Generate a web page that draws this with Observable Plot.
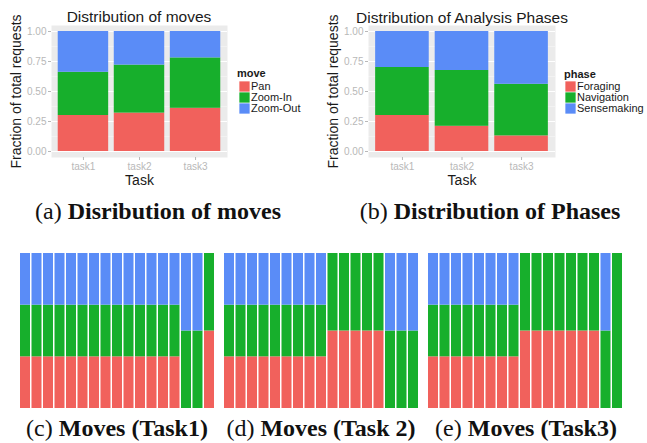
<!DOCTYPE html>
<html><head><meta charset="utf-8">
<script src="https://cdn.jsdelivr.net/npm/d3@7"></script>
<script src="https://cdn.jsdelivr.net/npm/@observablehq/plot@0.6"></script>
<style>
body{margin:0;background:#fff;}
#root{position:relative;width:647px;height:443px;overflow:hidden;font-family:"Liberation Sans",Arial,sans-serif;}
.abs{position:absolute;}
.ttl{position:absolute;font-size:15.5px;color:#1a1a1a;white-space:nowrap;transform:translate(-50%,-50%);}
.cap{position:absolute;font-family:"Liberation Serif","Times New Roman",serif;font-size:24px;white-space:nowrap;transform:translate(-50%,-50%);color:#111;}
.lgt{position:absolute;font-size:11px;font-weight:bold;color:#1a1a1a;transform:translateY(-50%);}
g[aria-label="y-axis label"] text, g[aria-label="x-axis label"] text{font-size:14px;fill:#1a1a1a;}
</style></head>
<body><div id="root"></div>
<script>
// ---- data ----
const tasks = ["task1", "task2", "task3"];
const moveNames = ["Pan", "Zoom-In", "Zoom-Out"];
const phaseNames = ["Foraging", "Navigation", "Sensemaking"];
const palette = ["#F1615C", "#17AF2C", "#5A8CF7"];
const yTicks = [0, 0.25, 0.5, 0.75, 1];
const yMinorTicks = [0.125, 0.375, 0.625, 0.875];

// (a) fraction of moves per task
const panShare = [0.30, 0.32, 0.36];
const zoomInShare = [0.36, 0.40, 0.42];
const zoomOutShare = [0.34, 0.28, 0.22];
// (b) fraction of phases per task
const foragingShare = [0.30, 0.21, 0.13];
const navigationShare = [0.40, 0.465, 0.43];
const sensemakingShare = [0.30, 0.325, 0.44];

// (c)-(e) move mix per column: P = Pan, I = Zoom-In, O = Zoom-Out
const task1Columns = ["PIO","PIO","PIO","PIO","PIO","PIO","PIO","PIO","PIO","PIO","PIO","PIO","PIO","PIO","IO","IO","PI"];
const task2Columns = ["PIO","PIO","PIO","PIO","PIO","PIO","PIO","PIO","PIO","PI","PI","PI","PI","PI","IO","IO","IO"];
const task3Columns = ["PIO","PIO","PIO","PIO","PIO","PIO","PIO","PIO","PI","PI","PI","PI","PI","PI","PI","IO","I"];
const moveCode = {P: "Pan", I: "Zoom-In", O: "Zoom-Out"};

const captions = [
  {label: "(a) ", bold: "Disribution of moves", x: 158, y: 211},
  {label: "(b) ", bold: "Distribution of Phases", x: 490, y: 211},
  {label: "(c) ", bold: "Moves (Task1)", x: 117, y: 428},
  {label: "(d) ", bold: "Moves (Task 2)", x: 321, y: 428},
  {label: "(e) ", bold: "Moves (Task3)", x: 526, y: 428}
];

// ---- helpers ----
const root = document.getElementById("root");
function place(node, left, top) {
  node.classList.add("abs");
  node.style.left = left + "px";
  node.style.top = top + "px";
  root.appendChild(node);
  return node;
}
function textDiv(cls, html, left, top) {
  const d = document.createElement("div");
  d.className = cls;
  d.innerHTML = html;
  d.style.left = left + "px";
  d.style.top = top + "px";
  root.appendChild(d);
  return d;
}
function longRows(names, series) {
  return names.flatMap((name, k) => tasks.map((task, i) => ({task, name, value: series[k][i]})));
}

function topChart(rows, names, width) {
  return Plot.plot({
    width, height: 192,
    marginLeft: 51, marginRight: 8, marginTop: 25, marginBottom: 35,
    style: {fontFamily: '"Liberation Sans", Arial, sans-serif', fontSize: "10px", background: "transparent"},
    x: {domain: tasks, paddingInner: 0.1, paddingOuter: 0.12, round: false},
    y: {domain: [-0.05, 1.05]},
    color: {domain: names, range: palette},
    marks: [
      Plot.frame({fill: "#EBEBEB", stroke: "none"}),
      Plot.gridY(yMinorTicks, {stroke: "white", strokeOpacity: 0.7, strokeWidth: 0.5}),
      Plot.gridY(yTicks, {stroke: "white", strokeOpacity: 1, strokeWidth: 1}),
      Plot.barY(rows, {x: "task", y: "value", z: "name", fill: "name", order: names}),
      Plot.axisY(yTicks, {tickFormat: d3.format(".2f"), tickSize: 3, tickPadding: 2, color: "#b8b8b8",
        label: "Fraction of total requests", labelAnchor: "center", labelOffset: 40, labelArrow: false}),
      Plot.axisX({tickSize: 3, tickPadding: 2, color: "#b8b8b8",
        label: "Task", labelAnchor: "center", labelOffset: 27, labelArrow: false})
    ]
  });
}

function legendChart(names) {
  return Plot.plot({
    width: 84, height: 34, margin: 0,
    style: {fontFamily: '"Liberation Sans", Arial, sans-serif', fontSize: "11px", background: "transparent"},
    y: {type: "point", domain: names, range: [0, 34], padding: 0.5, axis: null},
    color: {domain: names, range: palette},
    marks: [
      Plot.dot(names, {y: d => d, fill: d => d, symbol: "square", r: 5.8, frameAnchor: "left", dx: 5}),
      Plot.text(names, {y: d => d, text: d => d, frameAnchor: "left", textAnchor: "start", dx: 11.5, fill: "#1a1a1a"})
    ]
  });
}

function seqChart(cols) {
  const rows = cols.flatMap((pat, i) => pat.split("").map(c => ({col: i, name: moveCode[c], value: 1 / pat.length})));
  return Plot.plot({
    width: 194, height: 155, margin: 0,
    style: {background: "transparent"},
    x: {domain: d3.range(cols.length), paddingInner: 0.13, paddingOuter: 0, round: false, axis: null},
    y: {domain: [0, 1], axis: null},
    color: {domain: moveNames, range: palette},
    marks: [Plot.barY(rows, {x: "col", y: "value", z: "name", fill: "name", order: moveNames})]
  });
}

// ---- (a) ----
place(topChart(longRows(moveNames, [panShare, zoomInShare, zoomOutShare]), moveNames, 235), 0, 0);
textDiv("ttl", "Distribution of moves", 139, 17);
textDiv("lgt", "move", 237, 73);
place(legendChart(moveNames), 239, 80);

// ---- (b) ----
place(topChart(longRows(phaseNames, [foragingShare, navigationShare, sensemakingShare]), phaseNames, 246), 317, 0);
textDiv("ttl", "Distribution of Analysis Phases", 462, 18);
textDiv("lgt", "phase", 564, 74);
place(legendChart(phaseNames), 565, 80);

// ---- (c)-(e) ----
place(seqChart(task1Columns), 20, 253);
place(seqChart(task2Columns), 224, 253);
place(seqChart(task3Columns), 428, 253);

// ---- captions ----
for (const c of captions) textDiv("cap", c.label + "<b>" + c.bold + "</b>", c.x, c.y);
</script>
</body></html>
